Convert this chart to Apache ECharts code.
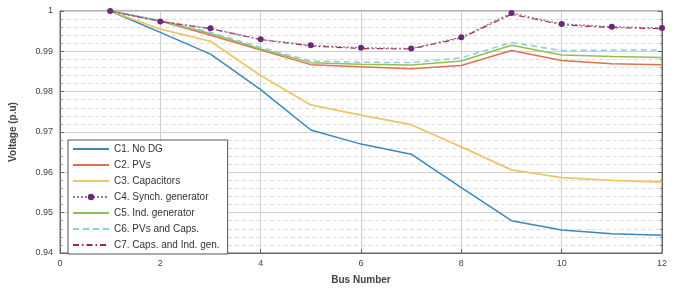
<!DOCTYPE html>
<html>
<head>
<meta charset="utf-8">
<script src="https://cdn.jsdelivr.net/npm/echarts@6/dist/echarts.min.js"></script>
<style>
  html, body { margin: 0; padding: 0; background: #fff; }
  #chart { width: 677px; height: 291px; }
</style>
</head>
<body>
<div id="chart"></div>
<script>
// bus numbers and voltages
var buses = [1, 2, 3, 4, 5, 6, 7, 8, 9, 10, 11, 12];
var noDG = [1, 0.9947, 0.9893, 0.9805, 0.9705, 0.9670, 0.9645, 0.9562, 0.9480, 0.9457, 0.9448, 0.9444];
var pvs = [1, 0.9975, 0.9940, 0.9903, 0.9867, 0.9862, 0.9857, 0.9865, 0.9902, 0.9877, 0.9869, 0.9867];
var caps = [1, 0.9955, 0.9925, 0.9840, 0.9767, 0.9742, 0.9718, 0.9663, 0.9606, 0.9587, 0.9580, 0.9576];
var synch = [1, 0.9974, 0.9957, 0.9930, 0.9915, 0.9909, 0.9907, 0.9935, 0.9995, 0.9968, 0.9961, 0.9958];
var indGen = [1, 0.9976, 0.9944, 0.9906, 0.9872, 0.9868, 0.9866, 0.9876, 0.9915, 0.9891, 0.9887, 0.9885];
var pvsCaps = [1, 0.9977, 0.9947, 0.9910, 0.9876, 0.9873, 0.9872, 0.9884, 0.9922, 0.9902, 0.9903, 0.9903];
var capsInd = [1, 0.9974, 0.9956, 0.9929, 0.9913, 0.9907, 0.9906, 0.9933, 0.9992, 0.9966, 0.9959, 0.9956];
var yTicks = [0.94, 0.95, 0.96, 0.97, 0.98, 0.99, 1];
var names = ['C1. No DG', 'C2. PVs', 'C3. Capacitors', 'C4. Synch. generator',
             'C5. Ind. generator', 'C6. PVs and Caps.', 'C7. Caps. and Ind. gen.'];

function pairs(vals) {
    return buses.map(function (b, i) { return [b, vals[i]]; });
}

var myChart = echarts.init(document.getElementById('chart'));
var font = 'Liberation Sans, Arial, sans-serif';

myChart.setOption({
    animation: false,
    grid: { left: 60, right: 15, top: 11, bottom: 38, show: true, borderColor: '#666', borderWidth: 1 },
    legend: {
        orient: 'vertical', left: 68, top: 140,
        backgroundColor: '#fff', borderColor: '#555', borderWidth: 1,
        padding: [4, 8, 4, 4], itemWidth: 36, itemHeight: 8, itemGap: 6,
        textStyle: { fontFamily: font, fontSize: 10, color: '#333' },
        // only C4 keeps its marker in the legend
        data: names.map(function (n, i) {
            return i === 3 ? { name: n } : { name: n, itemStyle: { opacity: 0 } };
        })
    },
    xAxis: {
        type: 'value', min: 0, max: 12, interval: 2,
        name: 'Bus Number', nameLocation: 'middle', nameGap: 22,
        nameTextStyle: { fontFamily: font, fontSize: 10, fontWeight: 'bold', color: '#444' },
        axisLine: { lineStyle: { color: '#666' } },
        axisTick: { inside: true, length: 4, lineStyle: { color: '#666' } },
        axisLabel: { fontFamily: font, fontSize: 9, color: '#444', margin: 6 },
        splitLine: { show: true, lineStyle: { color: '#cfcfcf' } }
    },
    yAxis: [{
        type: 'value', min: 0.94, max: 1, interval: 0.01,
        name: 'Voltage (p.u)', nameLocation: 'middle', nameGap: 42,
        nameTextStyle: { fontFamily: font, fontSize: 10, fontWeight: 'bold', color: '#444' },
        axisLine: { show: true, lineStyle: { color: '#666' } },
        axisTick: { inside: true, length: 4, lineStyle: { color: '#666' } },
        minorTick: { show: true, splitNumber: 5, length: 2, lineStyle: { color: '#888' } },
        axisLabel: {
            fontFamily: font, fontSize: 9, color: '#444', margin: 7,
            formatter: function (v) {
                var t = yTicks.find(function (k) { return Math.abs(k - v) < 1e-9; });
                return t === 1 ? '1' : t.toFixed(2);
            }
        },
        splitLine: { show: true, lineStyle: { color: '#cfcfcf' } },
        minorSplitLine: { show: true, lineStyle: { color: '#dcdcdc', type: [4, 3] } }
    }, {
        type: 'value', min: 0.94, max: 1, interval: 0.01, position: 'right',
        axisLine: { show: true, lineStyle: { color: '#666' } },
        axisTick: { inside: true, length: 4, lineStyle: { color: '#666' } },
        minorTick: { show: true, splitNumber: 5, length: 2, lineStyle: { color: '#888' } },
        axisLabel: { show: false },
        splitLine: { show: false }
    }],
    series: [
        { name: names[0], type: 'line', data: pairs(noDG), symbol: 'none',
          lineStyle: { color: '#3b86bf', width: 1.5 }, itemStyle: { color: '#3b86bf' } },
        { name: names[1], type: 'line', data: pairs(pvs), symbol: 'none',
          lineStyle: { color: '#e0714f', width: 1.5 }, itemStyle: { color: '#e0714f' } },
        { name: names[2], type: 'line', data: pairs(caps), symbol: 'none',
          lineStyle: { color: '#eec56a', width: 1.8 }, itemStyle: { color: '#eec56a' } },
        { name: names[4], type: 'line', data: pairs(indGen), symbol: 'none',
          lineStyle: { color: '#92c050', width: 1.5 }, itemStyle: { color: '#92c050' } },
        { name: names[5], type: 'line', data: pairs(pvsCaps), symbol: 'none',
          lineStyle: { color: '#8fcbe8', width: 1.5, type: [6, 4] }, itemStyle: { color: '#8fcbe8' } },
        { name: names[6], type: 'line', data: pairs(capsInd), symbol: 'none',
          lineStyle: { color: '#a2243f', width: 1.2, type: [6, 3, 1.5, 3] }, itemStyle: { color: '#a2243f' } },
        { name: names[3], type: 'line', data: pairs(synch), symbol: 'circle', symbolSize: 6,
          lineStyle: { color: '#9a6fb0', width: 1.2, type: [2, 2] }, itemStyle: { color: '#6a2a7a' } }
    ]
});
</script>
</body>
</html>
